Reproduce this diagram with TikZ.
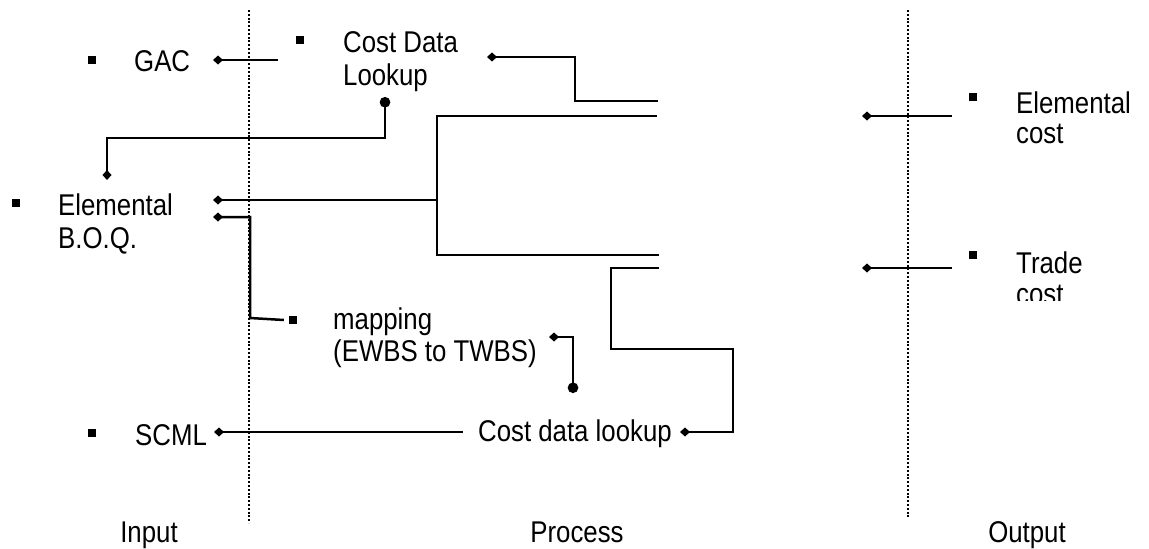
\documentclass[tikz,border=0pt]{standalone}
\usepackage{fontspec}
\setmainfont{Liberation Sans}[FakeStretch=0.86]
\usetikzlibrary{arrows.meta}

\tikzset{
  lbl/.style={inner sep=0pt, font=\fontsize{30}{32}\selectfont, align=left},
  bul/.style={fill=black, minimum size=8pt, inner sep=0pt},
  wire/.style={line width=2.5pt},
  dia/.tip={Diamond[length=10pt,width=9pt]},
  dot/.tip={Circle[length=10.5pt]},
  divider/.style={line width=2pt, dash pattern=on 2pt off 1.8pt},
}

\begin{document}
\begin{tikzpicture}[x=1pt,y=-1pt]
\useasboundingbox (0,0) rectangle (1149,549);

% column dividers
\coordinate (d1t) at (249,10);  \coordinate (d1b) at (249,523);
\coordinate (d2t) at (908,10);  \coordinate (d2b) at (908,518);
\draw[divider] (d1t) -- (d1b);
\draw[divider] (d2t) -- (d2b);

% input items
\node[bul] (gacB) at (92,60) {};
\node[lbl, anchor=base west] (gac) at (134,71) {GAC};
\node[bul] (boqB) at (16,203) {};
\node[lbl, anchor=north west] (boq) at (58,193.5) {Elemental\\[1pt]B.O.Q.};
\node[bul] (scmlB) at (92,433) {};
\node[lbl, anchor=base west] (scml) at (135,445) {SCML};

% process items
\node[bul] (lkB) at (300,40) {};
\node[lbl, anchor=north west] (lk) at (343,31.5) {Cost Data\\[1pt]Lookup};
\node[bul] (mapB) at (293,320) {};
\node[lbl, anchor=north west] (map) at (333,307.5) {mapping\\(EWBS to TWBS)};
\node[lbl, anchor=base east] (cdl) at (672,441) {Cost data lookup};

% output items
\node[bul] (ecB) at (973,97) {};
\node[lbl, anchor=north west] (ec) at (1016,91.5) {Elemental\\[-2pt]cost};
\node[bul] (tcB) at (973,255) {};
\begin{scope}
  \clip (960,230) rectangle (1149,300);
  \node[lbl, anchor=north west] (tc) at (1016,251.5) {Trade\\[-1pt]cost};
\end{scope}

% column headings
\node[lbl, anchor=base] (hin)  at (149,542) {Input};
\node[lbl, anchor=base] (hpr)  at (577,542) {Process};
\node[lbl, anchor=base] (hout) at (1027,542) {Output};

% connector end points
\coordinate (gacD) at (213,60);     \coordinate (gacE) at (278,60);
\coordinate (lkC) at (385,97);      \coordinate (lkBend) at (107,138);
\coordinate (boqD) at (107,180);
\coordinate (lkD) at (487,57);      \coordinate (lkStep) at (575,101);
\coordinate (pA) at (658,101);
\coordinate (boqD1) at (213,200);   \coordinate (fork) at (437,200);
\coordinate (pB) at (657,116);      \coordinate (forkLow) at (437,255);
\coordinate (pC) at (659,255);
\coordinate (boqD2) at (213,217);   \coordinate (mapBend) at (250,318);
\coordinate (mapD) at (549,337);    \coordinate (mapC) at (573,393);
\coordinate (pD) at (659,268);      \coordinate (pStep) at (611,349);
\coordinate (pCorner) at (733,432); \coordinate (cdlD) at (680,432);
\coordinate (scmlD) at (214,432);   \coordinate (scmlE) at (463,432);
\coordinate (ecD) at (862,116);     \coordinate (ecE) at (952,116);
\coordinate (tcD) at (862,268);     \coordinate (tcE) at (952,268);

% connectors
\draw[wire, dia-] (gacD) -- (gacE);
\draw[wire, dot-dia] (lkC) |- (lkBend) -- (boqD);
\draw[wire, dia-] (lkD) -| (lkStep) -- (pA);
\draw[wire, dia-] (boqD1) -- (fork);
\draw[wire] (pB) -| (forkLow) -- (pC);
\draw[wire, dia-] (boqD2) -| (mapBend) -- ([xshift=-5pt]mapB.west);
\draw[wire, dia-dot] (mapD) -| (mapC);
\draw[wire, -dia] (pD) -| (pStep) -| (pCorner) -- (cdlD);
\draw[wire, dia-] (scmlD) -- (scmlE);
\draw[wire, dia-] (ecD) -- (ecE);
\draw[wire, dia-] (tcD) -- (tcE);
\end{tikzpicture}
\end{document}
